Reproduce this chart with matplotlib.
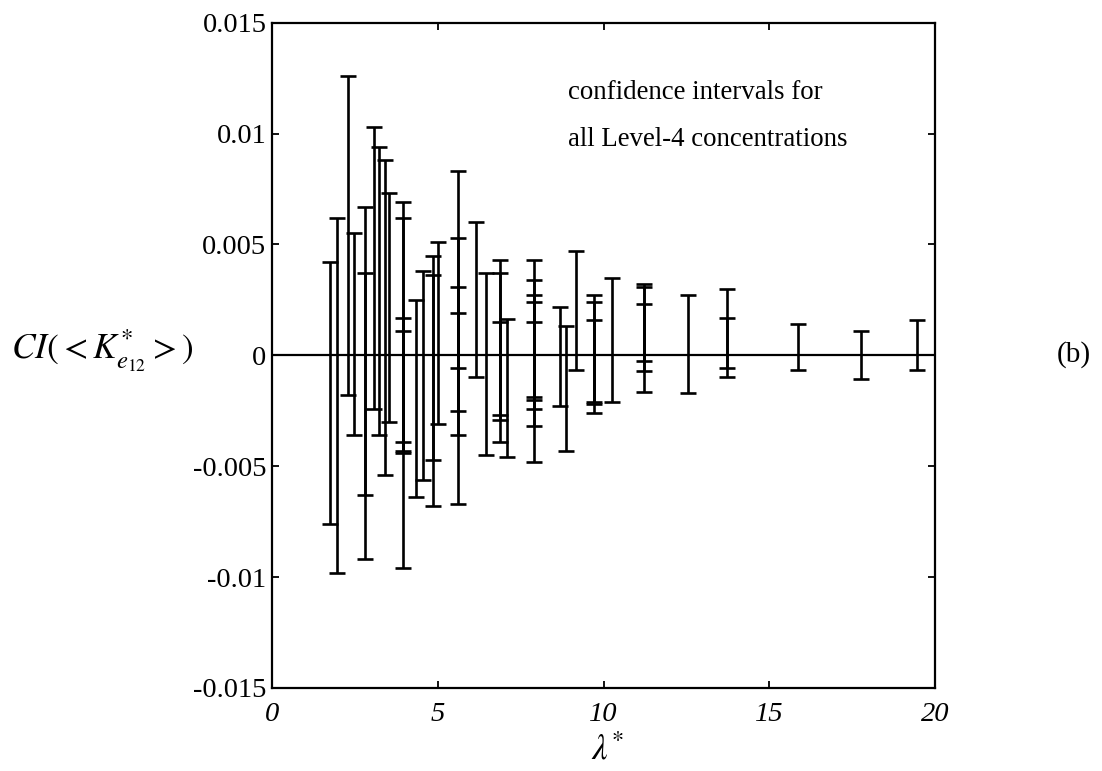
import numpy as np
import matplotlib
matplotlib.use('Agg')
import matplotlib.pyplot as plt

plt.rcParams['font.family'] = ['Liberation Serif', 'DejaVu Serif']
plt.rcParams['mathtext.fontset'] = 'stix'

# confidence intervals (lambda*, lower, upper); several intervals share one lambda*
lam = [1.75, 1.97, 2.28, 2.48, 2.81, 2.81, 3.08, 3.24, 3.41, 3.54,
       3.96, 3.96, 3.96, 3.96, 4.33, 4.55, 4.85, 4.85, 5.02,
       5.60, 5.60, 5.60, 5.60, 6.14, 6.46, 6.88, 6.88, 6.88, 7.08,
       7.91, 7.91, 7.91, 7.91, 7.91, 8.69, 8.87, 9.16, 9.72, 9.72, 9.72,
       10.25, 11.22, 11.22, 11.22, 12.54, 13.72, 13.72, 15.88, 17.76, 19.45]
lower = [-0.0076, -0.0098, -0.0018, -0.0036, -0.0092, -0.0063, -0.0024, -0.0036, -0.0054, -0.0030,
         -0.0096, -0.0039, -0.0043, -0.0044, -0.0064, -0.0056, -0.0068, -0.0047, -0.0031,
         -0.0067, -0.0036, -0.0025, -0.00057, -0.0010, -0.0045, -0.0039, -0.0029, -0.0027, -0.0046,
         -0.0048, -0.0032, -0.0024, -0.0020, -0.0019, -0.0023, -0.0043, -0.00068, -0.0026, -0.0021, -0.0022,
         -0.0021, -0.00165, -0.0007, -0.00026, -0.0017, -0.0010, -0.00057, -0.00068, -0.00105, -0.00068]
upper = [0.0042, 0.0062, 0.0126, 0.0055, 0.0067, 0.0037, 0.0103, 0.0094, 0.0088, 0.0073,
         0.0069, 0.0062, 0.0011, 0.0017, 0.0025, 0.0038, 0.0045, 0.0036, 0.0051,
         0.0083, 0.0053, 0.0031, 0.0019, 0.0060, 0.0037, 0.0043, 0.0037, 0.0015, 0.00166,
         0.0043, 0.0034, 0.0027, 0.0024, 0.0015, 0.0022, 0.0013, 0.0047, 0.0027, 0.0024, 0.0016,
         0.0035, 0.0032, 0.0031, 0.0023, 0.0027, 0.0030, 0.0017, 0.00143, 0.00108, 0.0016]

yticks = [-0.015, -0.01, -0.005, 0, 0.005, 0.01, 0.015]
ytick_labels = ['-0.015', '-0.01', '-0.005', '0', '0.005', '0.01', '0.015']
xticks = [0, 5, 10, 15, 20]

lam = np.array(lam)
lower = np.array(lower)
upper = np.array(upper)
mid = (lower + upper) / 2

fig = plt.figure(figsize=(11.02, 7.71), dpi=100)
ax = fig.add_axes([0.2468, 0.1077, 0.6017, 0.8629])

ax.axhline(0, color='black', lw=1.6, zorder=1)
ax.errorbar(lam, mid, yerr=[mid - lower, upper - mid], fmt='none',
            ecolor='black', elinewidth=1.9, capsize=6, capthick=1.9)

ax.set_xlim(0, 20)
ax.set_ylim(-0.015, 0.015)
ax.set_xticks(xticks)
ax.set_xticklabels([str(t) for t in xticks], fontstyle='italic')
ax.set_yticks(yticks)
ax.set_yticklabels(ytick_labels)
ax.tick_params(direction='in', length=5, width=1.3, top=True, right=True,
               labelsize=20.5)
ax.tick_params(axis='y', pad=4)
ax.tick_params(axis='x', pad=10)
for s in ax.spines.values():
    s.set_linewidth(1.6)

ax.text(0.447, 0.895, 'confidence intervals for', transform=ax.transAxes,
        fontsize=19.4, va='center')
ax.text(0.447, 0.825, 'all Level-4 concentrations', transform=ax.transAxes,
        fontsize=19.4, va='center')

fig.text(0.010, 0.545, r'$CI(<K^{*}_{e_{12}}>)$', fontsize=25.5, va='center', ha='left')
fig.text(0.551, 0.026, r'$\lambda^{*}$', fontsize=25, ha='center', va='center')
fig.text(0.959, 0.54, '(b)', fontsize=21, ha='left', va='center')

fig.savefig('out.png', dpi=100)
